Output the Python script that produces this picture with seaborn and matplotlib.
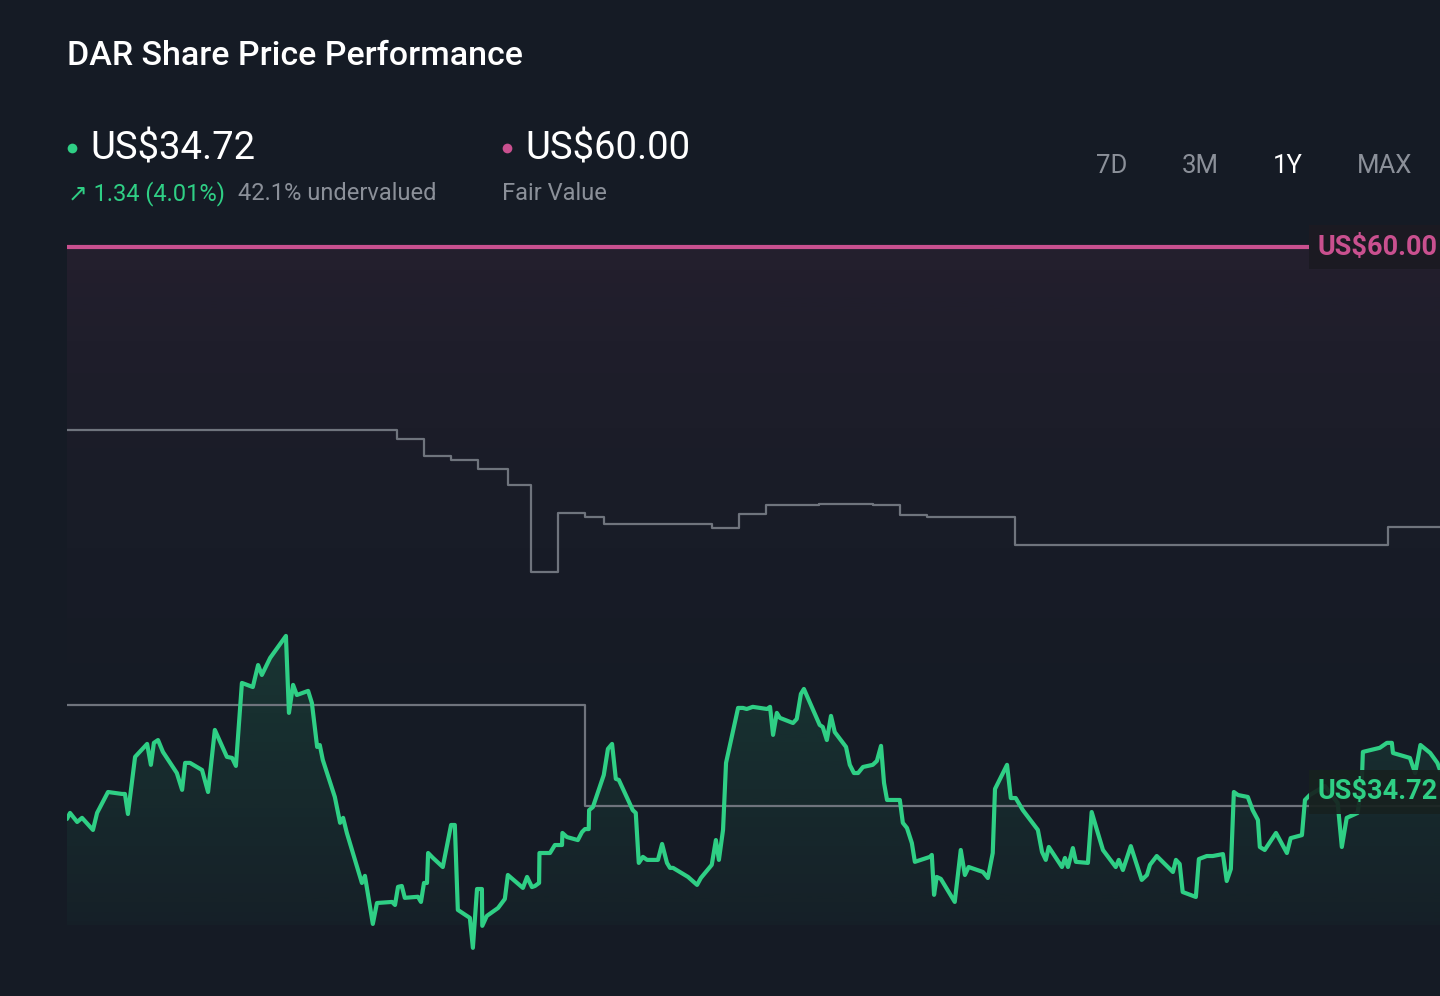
import numpy as np
import pandas as pd
import matplotlib
matplotlib.use('Agg')
import matplotlib.pyplot as plt
import matplotlib.colors as mcolors
from matplotlib.lines import Line2D
import seaborn as sns

# ---- data (x = days into the 1Y window, y = US$) ----
price_days = [0.0, 0.8, 2.7, 4.0, 6.9, 8.0, 10.9, 14.6, 15.4, 16.2, 18.1, 21.3, 22.3, 23.1, 24.2, 25.5,
              29.2, 30.6, 31.4, 32.7, 35.9, 37.5, 39.3, 42.5, 43.9, 44.9, 46.5, 49.4, 50.8, 51.8, 54.0,
              58.2, 59.0, 60.1, 61.1, 64.1, 65.1, 66.5, 67.2, 68.0, 71.2, 72.6, 73.4, 74.4, 78.4, 79.2,
              81.3, 82.4, 86.4, 87.2, 88.0, 89.0, 89.8, 93.3, 94.1, 94.9, 95.7, 96.0, 97.3, 99.9, 102.1,
              103.1, 103.9, 107.1, 107.9, 109.0, 110.3, 110.4, 111.6, 114.6, 116.4, 117.2, 121.2, 122.3,
              123.6, 124.4, 125.5, 125.6, 128.4, 129.7, 131.6, 131.7, 132.9, 135.8, 136.9, 137.7, 138.7,
              138.8, 139.8, 142.7, 143.8, 144.9, 145.9, 146.7, 150.4, 151.2, 152.0, 153.1, 154.2, 157.1,
              158.2, 159.5, 160.3, 161.1, 165.1, 167.5, 168.5, 171.4, 172.5, 173.3, 174.4, 175.2, 178.4,
              179.7, 180.7, 182.3, 186.1, 186.9, 187.7, 188.7, 189.5, 193.0, 194.0, 195.1, 195.9, 200.1,
              200.9, 202.0, 203.1, 204.1, 207.1, 208.1, 209.2, 210.3, 211.6, 214.2, 215.3, 216.4, 217.2,
              218.0, 221.4, 222.2, 223.3, 224.6, 225.4, 229.4, 229.9, 230.5, 231.2, 232.3, 236.0, 237.6,
              238.7, 239.7, 243.5, 244.8, 246.1, 246.7, 249.9, 250.9, 252.2, 254.1, 258.1, 259.2, 260.2,
              261.0, 264.5, 265.3, 266.1, 267.4, 268.2, 271.4, 272.4, 273.8, 275.4, 278.8, 279.6, 280.7,
              282.8, 285.7, 287.1, 287.9, 289.7, 294.0, 294.8, 295.8, 296.6, 300.1, 300.9, 303.0, 304.6,
              307.3, 308.3, 309.4, 310.2, 311.3, 313.9, 315.2, 316.6, 317.1, 318.4, 321.4, 324.3, 325.3,
              328.3, 329.1, 330.4, 334.4, 337.8, 338.9, 340.2, 343.1, 344.2, 344.5, 349.0, 350.9, 352.2,
              352.5, 357.0, 358.4, 359.8, 362.4, 364.3, 365.0]
price_vals = [33.47, 33.75, 33.33, 33.52, 32.96, 33.75, 34.72, 34.63, 34.63, 33.70, 36.35, 36.95, 35.98, 37.00,
              37.13, 36.58, 35.60, 34.82, 36.07, 36.07, 35.74, 34.72, 37.60, 36.35, 36.30, 35.93, 39.78, 39.59,
              40.61, 40.15, 40.94, 41.96, 38.39, 39.69, 39.22, 39.41, 38.85, 36.81, 36.90, 36.21, 34.49, 33.29,
              33.52, 32.82, 30.50, 30.83, 28.60, 29.57, 29.62, 29.48, 30.32, 30.36, 29.81, 29.86, 29.62, 30.50,
              30.50, 31.89, 31.66, 31.24, 33.19, 33.19, 29.25, 28.88, 27.49, 30.22, 30.22, 28.51, 28.97, 29.34,
              29.76, 30.87, 30.27, 30.78, 30.31, 30.36, 30.50, 31.89, 31.89, 32.26, 32.26, 32.82, 32.63, 32.49,
              32.86, 33.00, 33.00, 33.88, 34.02, 35.51, 36.72, 36.95, 35.33, 35.28, 33.88, 33.75, 31.43, 31.71,
              31.57, 31.57, 32.31, 31.43, 31.20, 31.20, 30.78, 30.41, 30.73, 31.34, 32.49, 31.57, 32.96, 36.07,
              38.62, 38.62, 38.57, 38.67, 38.57, 38.67, 37.37, 38.39, 38.16, 37.92, 38.11, 39.27, 39.50, 37.83,
              37.74, 37.13, 38.25, 37.50, 36.81, 35.98, 35.60, 35.60, 35.88, 35.98, 36.16, 36.86, 35.14, 34.35,
              34.35, 33.29, 33.05, 32.35, 31.48, 31.71, 31.80, 29.95, 30.78, 30.69, 29.62, 32.03, 30.87, 31.24,
              31.01, 30.73, 31.89, 34.86, 35.98, 34.44, 34.44, 33.88, 32.96, 31.94, 31.57, 32.17, 31.24, 31.66,
              31.24, 32.12, 31.48, 31.43, 33.79, 32.96, 32.03, 31.24, 31.57, 31.10, 32.21, 30.64, 30.87, 31.34,
              31.75, 31.01, 31.57, 31.38, 30.08, 29.85, 31.61, 31.75, 31.75, 31.84, 30.59, 31.15, 34.72, 34.58,
              34.49, 33.88, 33.42, 32.17, 32.03, 32.82, 31.89, 32.58, 32.72, 34.35, 34.58, 35.00, 34.21, 32.17,
              33.52, 33.75, 35.14, 36.58, 36.77, 37.00, 37.00, 36.53, 36.30, 35.60, 36.90, 36.53, 36.07, 35.74]

# upper grey step line
upper_days = [0, 87.7, 94.9, 102.1, 109.2, 117.2, 123.3, 130.5, 137.7, 142.7, 171.4, 178.6, 185.8,
              199.9, 214.2, 221.4, 228.6, 252.0, 351.1, 365]
upper_vals = [51.51, 51.09, 50.31, 50.12, 49.70, 48.96, 44.93, 47.66, 47.48, 47.15, 46.97, 47.62, 48.03,
              48.08, 48.03, 47.57, 47.48, 46.18, 47.01, 47.01]
# lower grey step line
lower_days = [0, 137.7, 365]
lower_vals = [38.76, 34.07, 34.07]

fair_value = 60.00
last_price = 34.72
tabs = ['7D', '3M', '1Y', 'MAX']

BG = '#151b25'
GREEN = '#2fcf85'
PINK = '#c9508f'
GREY = '#6f747d'
MUTED = '#8b9099'

sns.set_theme(style='dark', rc={'figure.facecolor': BG, 'axes.facecolor': BG, 'savefig.facecolor': BG})
plt.rcParams['font.family'] = ['Roboto', 'DejaVu Sans']

W, H = 1440, 996
fig = plt.figure(figsize=(W / 100, H / 100), dpi=100)


def fx(x):
    return x / W


def fy(y):
    return 1 - y / H


ax = fig.add_axes([fx(67), fy(950), 1 - fx(67), (950 - 235) / H])
ax.set_facecolor(BG)
y_lo, y_hi = 27.39, 60.56
x_lo, x_hi = 0, 365
floor = 28.55  # where the shaded areas stop

price = pd.DataFrame({'day': price_days, 'price': price_vals})
upper = pd.DataFrame({'day': upper_days, 'value': upper_vals})
lower = pd.DataFrame({'day': lower_days, 'value': lower_vals})

# pink tint under the fair value line, fading quickly
t = np.linspace(0, 1, 256)
grad = np.zeros((256, 1, 4))
grad[:, 0, :3] = mcolors.to_rgb(PINK)
grad[:, 0, 3] = 0.085 * (1 - t) ** 2.5
ax.imshow(grad, aspect='auto', extent=[x_lo, x_hi, floor, fair_value], origin='upper', zorder=0)

# green gradient under the price line
poly = ax.fill_between(price['day'], price['price'], floor, facecolor='none', edgecolor='none')
g = np.zeros((256, 1, 4))
g[:, 0, :3] = mcolors.to_rgb(GREEN)
g[:, 0, 3] = np.linspace(0.15, 0.03, 256)
im = ax.imshow(g, aspect='auto', extent=[x_lo, x_hi, floor, max(price_vals)], origin='upper', zorder=1)
im.set_clip_path(poly.get_paths()[0], transform=ax.transData)

sns.lineplot(data=upper, x='day', y='value', ax=ax, color=GREY, lw=1.6, drawstyle='steps-post', zorder=2)
sns.lineplot(data=lower, x='day', y='value', ax=ax, color=GREY, lw=1.6, drawstyle='steps-post', zorder=2)
ax.axhline(fair_value, color=PINK, lw=3, zorder=3)
sns.lineplot(data=price, x='day', y='price', ax=ax, color=GREEN, lw=3, zorder=4, sort=False)

ax.set_xlim(x_lo, x_hi)
ax.set_ylim(y_lo, y_hi)
ax.axis('off')

# value tags on the right edge
ax.text(332.4, fair_value, 'US$60.00', color=PINK, fontsize=19.5, fontweight='bold', va='center', ha='left',
        zorder=6, bbox=dict(boxstyle='square,pad=0.3', fc='#1b1a22', ec='none'))
ax.text(332.4, last_price, 'US$34.72', color=GREEN, fontsize=19.5, fontweight='bold', va='center', ha='left',
        zorder=6, bbox=dict(boxstyle='square,pad=0.3', fc='#17211f', ec='none', alpha=0.92))

# header
fig.text(fx(67), fy(56), 'DAR Share Price Performance', color='white', fontsize=24.5, fontweight='medium',
         va='center', ha='left')
fig.add_artist(Line2D([fx(72)], [fy(148)], marker='o', ms=7, color=GREEN, mec='none', transform=fig.transFigure))
fig.text(fx(90), fy(149), 'US$34.72', color='white', fontsize=27.5, va='center', ha='left')
fig.text(fx(68), fy(194), '\u2197 1.34 (4.01%)', color=GREEN, fontsize=17, va='center', ha='left')
fig.text(fx(238), fy(194), '42.1% undervalued', color=MUTED, fontsize=17, va='center', ha='left')
fig.add_artist(Line2D([fx(507)], [fy(148)], marker='o', ms=7, color=PINK, mec='none', transform=fig.transFigure))
fig.text(fx(525), fy(149), 'US$60.00', color='white', fontsize=27.5, va='center', ha='left')
fig.text(fx(502), fy(194), 'Fair Value', color=MUTED, fontsize=17, va='center', ha='left')

for label, cx in zip(tabs, [1112, 1200, 1288, 1385]):
    fig.text(fx(cx), fy(166), label, color='white' if label == '1Y' else MUTED, fontsize=18.5,
             va='center', ha='center')

fig.savefig('out.png', dpi=100, facecolor=BG)
